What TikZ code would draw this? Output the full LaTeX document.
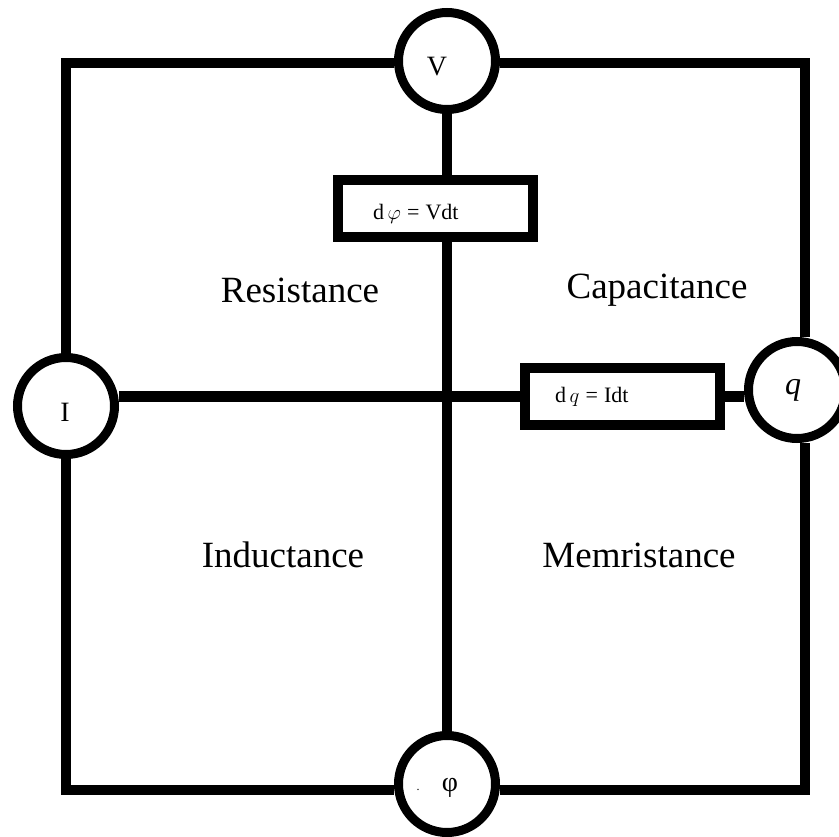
\documentclass[tikz,border=0pt]{standalone}
\usepackage{fontspec}
\setmainfont{Liberation Serif}
\begin{document}
\begin{tikzpicture}[x=1pt,y=-1pt,line join=miter,
  wire/.style={line width=10pt},
  meter/.style={circle,draw,line width=9pt,minimum size=97pt,inner sep=0pt,fill=white},
  eqbox/.style={rectangle,draw,line width=10pt,minimum height=57pt,inner ysep=0pt,align=left,fill=white,font=\fontsize{22}{24}\selectfont},
  meterlabel/.style={font=\fontsize{28}{30}\selectfont},
  region/.style={font=\fontsize{37}{40}\selectfont}]
\useasboundingbox (0,0) rectangle (839,837);
% meters
\node[meter,label={[meterlabel,shift={(-10,6)}]center:V}] (V) at (447,61) {};
\node[meter,label={[meterlabel,shift={(-1,6)}]center:I}] (I) at (66,406) {};
\node[meter,label={[font=\fontsize{32}{34}\selectfont\itshape,shift={(-4,0)}]center:q}] (q) at (797,390) {};
\node[meter,label={[meterlabel,shift={(3,4)}]center:φ},
      label={[font=\fontsize{12}{12}\selectfont,shift={(-29,6)}]center:.}] (phi) at (447,784) {};
% equation boxes
\node[eqbox,text width=125pt,inner xsep=35pt,text height=28pt,text depth=5pt] (box1) at (435.5,208.5) {d\,$\varphi$\;=\;Vdt};
\node[eqbox,text width=135pt,inner xsep=30pt] (box2) at (622.5,396.5) {d\,$q$\;=\;Idt};
% frame
\coordinate (TL) at (66,63);
\coordinate (TR) at (805,63);
\coordinate (BL) at (66,790);
\coordinate (BR) at (805,790);
\draw[wire] (I) -- (TL) -- (TL -| V.west);
\draw[wire] (TR -| V.east) -- (TR) -- (TR |- q.north);
\draw[wire] (BR |- q.south) -- (BR) -- (BR -| phi.east);
\draw[wire] (BL -| phi.west) -- (BL) -- (I);
% inner connectors
\draw[wire] (V) -- (V |- box1.north);
\draw[wire] (box1.south -| V) -- (phi);
\draw[wire] (box2.west -| I.east) -- (box2.west);
\draw[wire] (box2.east) -- (box2.east -| q.west);
% region labels
\node[region] (res) at (300,290) {Resistance};
\node[region] (cap) at (657,290) {Capacitance};
\node[region] (ind) at (283,555) {Inductance};
\node[region] (mem) at (639,555) {Memristance};
\end{tikzpicture}
\end{document}
